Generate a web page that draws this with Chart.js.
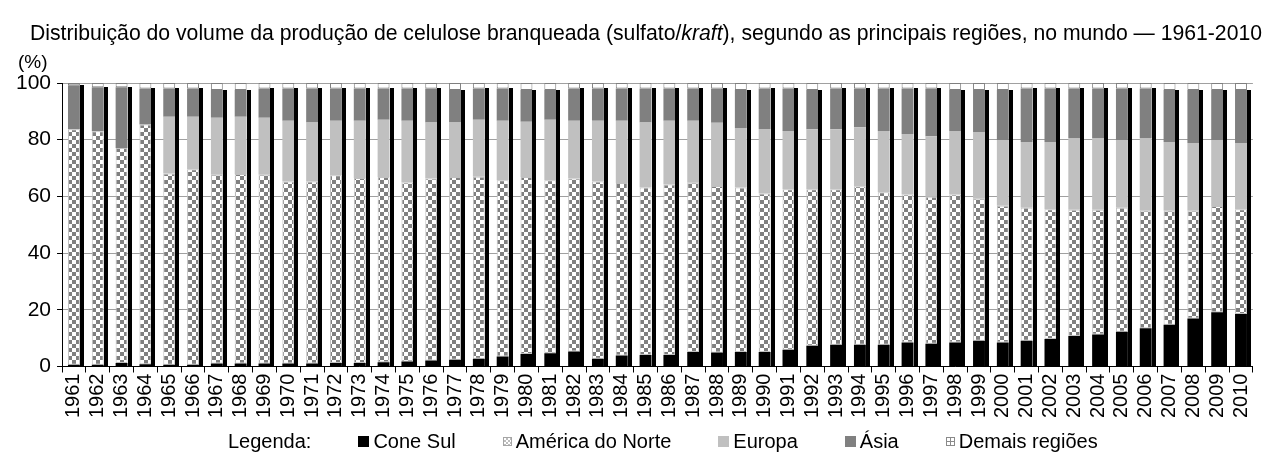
<!DOCTYPE html>
<html><head><meta charset="utf-8">
<script src="https://cdn.jsdelivr.net/npm/chart.js@4.4.1/dist/chart.umd.min.js"></script>
<style>
html,body{margin:0;padding:0;background:#fff;}
#wrap{position:relative;width:1266px;height:457px;font-family:"Liberation Sans",Arial,sans-serif;color:#000;}
#title{position:absolute;left:30px;top:21px;font-size:21.2px;line-height:24px;white-space:nowrap;}
#unit{position:absolute;left:18px;top:51px;font-size:19px;line-height:22px;}
canvas{position:absolute;left:0;top:0;}
#legend{position:absolute;left:228px;top:430px;font-size:20px;line-height:23px;display:flex;align-items:center;white-space:nowrap;}
#legend .it{display:flex;align-items:center;margin-left:47px;}
#legend .bx{display:inline-block;width:11px;height:11px;margin-right:4px;box-sizing:border-box;}
</style></head><body>
<div id="wrap"><canvas id="c" width="1266" height="457"></canvas>
<div id="title">Distribuição do volume da produção de celulose branqueada (sulfato/<i>kraft</i>), segundo as principais regiões, no mundo — 1961-2010</div>
<div id="unit">(%)</div>
<div id="legend"></div></div>
<script>
const years = ['1961','1962','1963','1964','1965','1966','1967','1968','1969','1970',
'1971','1972','1973','1974','1975','1976','1977','1978','1979','1980',
'1981','1982','1983','1984','1985','1986','1987','1988','1989','1990',
'1991','1992','1993','1994','1995','1996','1997','1998','1999','2000',
'2001','2002','2003','2004','2005','2006','2007','2008','2009','2010'];
const coneSul = [0.6,0.6,1.2,0.8,0.6,0.6,1.1,1.1,1.1,1.1,
1.1,1.2,1.2,1.5,1.8,2.1,2.4,2.7,3.5,4.4,
4.7,5.3,2.7,3.9,4.1,4.1,5.1,4.9,5.1,5.1,
5.9,7.3,7.7,7.7,7.7,8.5,8.0,8.5,9.1,8.5,
9.1,9.7,10.8,11.3,12.3,13.5,14.7,16.9,19.1,18.5];
const americaNorte = [83.1,82.4,75.9,84.6,67.5,69.0,66.5,66.8,66.5,64.2,
64.2,66.3,65.3,65.3,63.1,64.2,64.4,64.2,62.2,62.4,
61.0,61.0,62.6,60.8,59.0,60.1,59.7,58.8,58.0,55.9,
56.6,55.2,54.8,55.9,53.8,52.2,51.9,52.2,50.1,48.2,
46.9,45.8,44.5,44.0,43.7,41.4,40.2,38.0,37.5,37.0];
const europa = [0,0,0,0,20.0,18.5,20.1,20.2,20.1,21.4,
20.8,19.2,20.2,20.2,21.8,19.8,19.3,20.1,21.0,19.5,
21.3,20.4,21.4,22.0,23.0,22.5,21.9,22.3,21.0,22.8,
20.6,21.2,21.2,20.8,21.6,21.3,21.3,22.4,23.5,23.2,
23.2,23.7,25.3,25.3,23.9,25.7,24.3,23.9,23.3,23.3];
const asia = [15.5,15.5,21.4,12.7,10.0,10.0,9.8,9.4,10.4,11.4,
12.0,11.4,11.4,11.1,11.4,12.0,11.4,11.1,11.4,11.2,
10.5,11.4,11.4,11.4,12.0,11.4,11.4,12.1,13.4,14.3,
15.0,13.8,14.4,13.7,15.0,16.1,16.9,14.4,14.8,17.6,
18.9,18.9,17.5,17.5,18.2,17.5,18.3,18.7,17.6,18.7];
const demais = [0.8,1.5,1.5,1.9,1.9,1.9,2.5,2.5,1.9,1.9,
1.9,1.9,1.9,1.9,1.9,1.9,2.5,1.9,1.9,2.5,
2.5,1.9,1.9,1.9,1.9,1.9,1.9,1.9,2.5,1.9,
1.9,2.5,1.9,1.9,1.9,1.9,1.9,2.5,2.5,2.5,
1.9,1.9,1.9,1.9,1.9,1.9,2.5,2.5,2.5,2.5];
const yTicks = [0,20,40,60,80,100];
const legendLead = 'Legenda:';

function checker(){
  const c=document.createElement('canvas');c.width=8;c.height=8;
  const g=c.getContext('2d');
  g.fillStyle='#ffffff';g.fillRect(0,0,8,8);
  g.fillStyle='#808080';g.fillRect(0,0,4,4);g.fillRect(4,4,4,4);
  return g.createPattern(c,'repeat');
}
const FONT = '"Liberation Sans", Arial, sans-serif';
const STRIP = 4;
const shadowPlugin = {
  id:'shadow',
  afterDatasetsDraw(chart){
    const top = chart.getDatasetMeta(3).data, bot = chart.getDatasetMeta(0).data;
    const ctx = chart.ctx; ctx.save(); ctx.fillStyle='#000';
    for(let i=0;i<top.length;i++){
      const t = top[i].getProps(['x','y','width'],true);
      const b = bot[i].getProps(['base'],true);
      ctx.fillRect(Math.round(t.x + t.width/2), Math.round(t.y), STRIP, Math.round(b.base - t.y));
    }
    ctx.restore();
  }
};
const common = {barPercentage:0.5, categoryPercentage:1, borderSkipped:false};
const datasets = [
  Object.assign({label:'Cone Sul', data:coneSul, backgroundColor:'#000000', borderWidth:0}, common),
  Object.assign({label:'América do Norte', data:americaNorte, backgroundColor:checker(), borderColor:'#c0c0c0', borderWidth:1}, common),
  Object.assign({label:'Europa', data:europa, backgroundColor:'#c0c0c0', borderWidth:0}, common),
  Object.assign({label:'Ásia', data:asia, backgroundColor:'#808080', borderWidth:0}, common),
  Object.assign({label:'Demais regiões', data:demais, backgroundColor:'#ffffff', borderColor:'#7f7f7f', borderWidth:1}, common)
];
// HTML legend built from dataset labels
const legendIcons = [
  'background:#000;',
  'width:9px;height:9px;border:1px solid #a6a6a6;background:repeating-conic-gradient(#bdbdbd 0 25%,#fff 0 50%) 0 0/4px 4px;',
  'background:#c0c0c0;',
  'background:#808080;',
  'width:9px;height:9px;border:1px solid #8a8a8a;background:linear-gradient(#8a8a8a,#8a8a8a) 50% 0/1px 100% no-repeat,linear-gradient(#8a8a8a,#8a8a8a) 0 50%/100% 1px no-repeat,#fff;'
];
const lg = document.getElementById('legend');
const lead = document.createElement('span'); lead.textContent = legendLead; lg.appendChild(lead);
datasets.forEach((d,i)=>{
  const it=document.createElement('span'); it.className='it';
  const b=document.createElement('span'); b.className='bx'; b.style.cssText=legendIcons[i];
  const t=document.createElement('span'); t.textContent=d.label;
  it.appendChild(b); it.appendChild(t); lg.appendChild(it);
});
new Chart(document.getElementById('c'), {
  type:'bar',
  data:{labels:years, datasets},
  options:{
    responsive:false, animation:false, devicePixelRatio:1,
    layout:{padding:{top:83,left:10,right:1,bottom:38}},
    plugins:{ title:{display:false}, tooltip:{enabled:false}, legend:{display:false} },
    scales:{
      x:{stacked:true,
        grid:{display:true, drawOnChartArea:false, drawTicks:true, tickLength:6, tickColor:'#000', offset:true},
        border:{display:true, color:'#000', width:1},
        ticks:{color:'#000', font:{family:FONT,size:20}, minRotation:90, maxRotation:90, autoSkip:false, padding:1}},
      y:{stacked:true, min:0, max:100,
        afterBuildTicks(axis){axis.ticks = yTicks.map(v=>({value:v}));},
        grid:{color:'#a0a0a0', tickColor:'#000', tickLength:5},
        border:{display:true, color:'#000', width:1},
        ticks:{color:'#000', font:{family:FONT,size:21}, padding:6}}
    }
  },
  plugins:[shadowPlugin]
});
</script>
</body></html>
